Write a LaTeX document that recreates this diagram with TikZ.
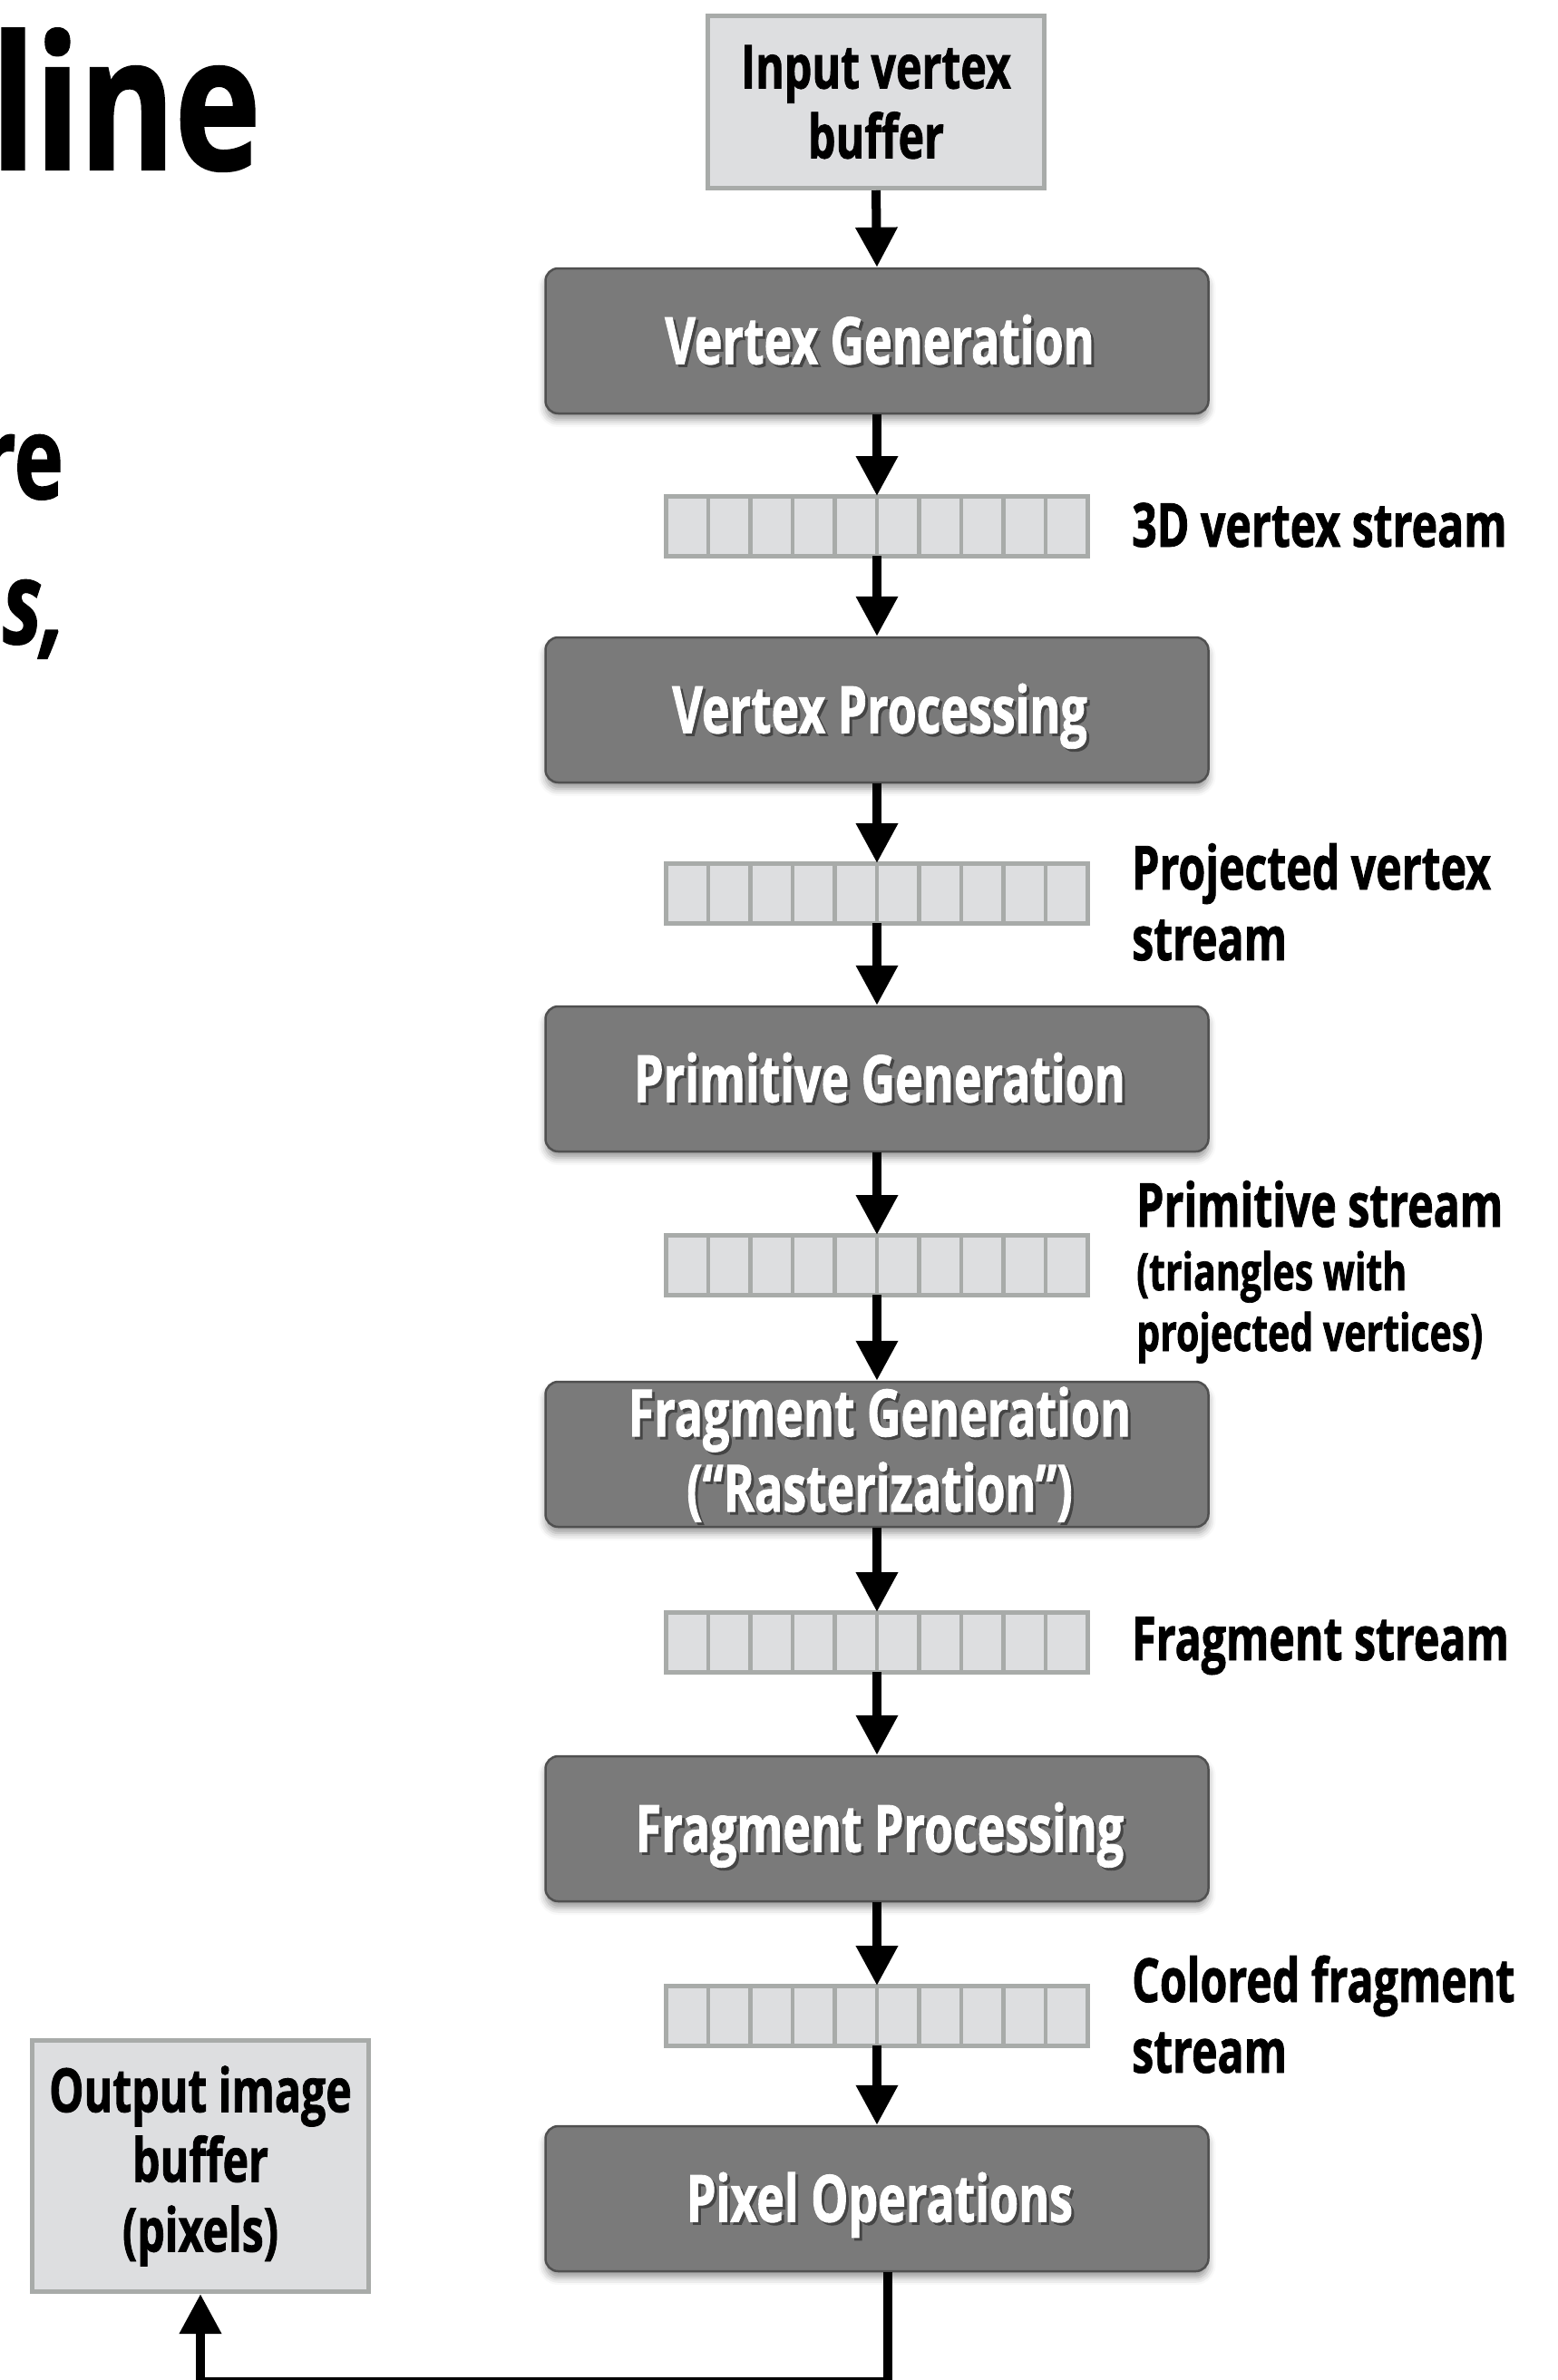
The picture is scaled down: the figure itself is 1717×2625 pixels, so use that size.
\documentclass[tikz,border=0pt]{standalone}
\usepackage{fontspec}
\setmainfont{Open Sans}
\newfontfamily\cond{Open Sans}[FakeStretch=0.72, FakeBold=1.2]
\newfontfamily\condtitle{Open Sans}[FakeStretch=0.78, FakeBold=1.2]
\usetikzlibrary{arrows.meta,shadows.blur,calc}

\definecolor{stagefill}{HTML}{7A7A7A}
\definecolor{stageedge}{HTML}{505050}
\definecolor{buffill}{HTML}{DDDEE0}
\definecolor{bufedge}{HTML}{A8ABA9}
\definecolor{txtshadow}{HTML}{454545}

% white stage title with a dark offset shadow under it
\newcommand{\shd}[1]{\makebox[0pt][l]{\hspace*{3pt}\raisebox{-3pt}[0pt][0pt]{\textcolor{txtshadow}{#1}}}#1}

\tikzset{
  stage/.style={draw=stageedge, line width=2.5pt, fill=stagefill, rounded corners=14pt,
    minimum width=731pt, minimum height=160pt, inner sep=0pt, text=white,
    font=\cond\bfseries\fontsize{72}{83}\selectfont,
    blur shadow={shadow xshift=0pt, shadow yshift=-7pt, shadow blur radius=8pt, shadow opacity=40}},
  oneline/.style={text height=51pt, text depth=0pt},
  membox/.style={draw=bufedge, line width=5pt, fill=buffill, inner sep=0pt,
    minimum width=371pt, align=center,
    font=\cond\bfseries\fontsize{67}{77}\selectfont},
  stream/.style={draw=bufedge, line width=5pt, fill=buffill, inner sep=0pt, outer sep=0pt,
    minimum width=465pt, minimum height=66pt},
  cellsep/.style={draw=bufedge, line width=4.5pt},
  flow/.style={line width=10pt, line join=miter, -{Triangle[width=44pt,length=44pt]}},
  lbl/.style={anchor=base west, inner sep=0pt, align=left,
    font=\cond\bfseries\fontsize{67}{78}\selectfont},
  lblsmall/.style={anchor=base west, inner sep=0pt, align=left,
    font=\cond\bfseries\fontsize{57}{67}\selectfont},
}

\begin{document}
\begin{tikzpicture}[x=1pt,y=-1pt]
\useasboundingbox (0,0) rectangle (1717,2625);
\clip (0,0) rectangle (1717,2625);

% pieces of the slide heading and body text at the left edge
\node[anchor=base west, inner sep=0pt] (head1) at (-10,187) {\condtitle\bfseries\fontsize{205}{205}\selectfont line};
\node[anchor=base east, inner sep=0pt] (head2) at (70,550) {\cond\bfseries\fontsize{127}{127}\selectfont re};
\node[anchor=base east, inner sep=0pt] (head3) at (72,710) {\cond\bfseries\itshape\fontsize{127}{127}\selectfont s,};

% buffers in memory
\node[membox, minimum height=190pt] (in) at (966,112.5) {Input vertex\\buffer};
\node[membox, minimum height=277pt] (out) at (221,2389) {Output image\\buffer\\(pixels)};

% pipeline stages
\node[stage, oneline] (vg) at (967,376) {\hspace*{6pt}\shd{Vertex Generation}};
\node[stage, oneline] (vp) at (967,783) {\hspace*{6pt}\shd{Vertex Processing}};
\node[stage, oneline] (pg) at (967,1190) {\hspace*{6pt}\shd{Primitive Generation}};
\node[stage, align=center] (fg) at (967,1604) {\hspace*{6pt}\shd{Fragment Generation}\\\hspace*{6pt}\shd{(“Rasterization”)}};
\node[stage, oneline] (fp) at (967,2017) {\hspace*{6pt}\shd{Fragment Processing}};
\node[stage, oneline] (po) at (967,2425) {\hspace*{6pt}\shd{Pixel Operations}};

% streams between the stages, ten cells each
\foreach \n/\y in {s1/580, s2/985, s3/1395, s4/1811, s5/2223} {
  \node[stream] (\n) at (967,\y) {};
  \foreach \i in {1,...,9}
    \draw[cellsep] ($(\n.north west)!\i/10!(\n.north east)$) -- ($(\n.south west)!\i/10!(\n.south east)$);
}

% stream labels (base anchor of a multi-line label is its last line)
\node[lbl] (l1) at (1248,603) {3D vertex stream};
\node[lbl] (l2) at (1248,1059) {Projected vertex\\stream};
\node[lbl] (l3) at (1253,1353) {Primitive stream};
\node[lblsmall] (l3b) at (1253,1490) {(triangles with\\projected vertices)};
\node[lbl] (l4) at (1248,1831) {Fragment stream};
\node[lbl] (l5) at (1248,2286) {Colored fragment\\stream};

% data flow
\draw[flow] (in.south) -- (vg.north);
\draw[flow] (vg.south) -- (s1.north);
\draw[flow] (s1.south) -- (vp.north);
\draw[flow] (vp.south) -- (s2.north);
\draw[flow] (s2.south) -- (pg.north);
\draw[flow] (pg.south) -- (s3.north);
\draw[flow] (s3.south) -- (fg.north);
\draw[flow] (fg.south) -- (s4.north);
\draw[flow] (s4.south) -- (fp.north);
\draw[flow] (fp.south) -- (s5.north);
\draw[flow] (s5.south) -- (po.north);

% write-back to the output image
\coordinate (potap) at ([xshift=12pt]po.south);
\coordinate (floor) at (0,2627);
\draw[flow] (potap) -- (potap |- floor) -- (out.south |- floor) -- (out.south);
\end{tikzpicture}
\end{document}
